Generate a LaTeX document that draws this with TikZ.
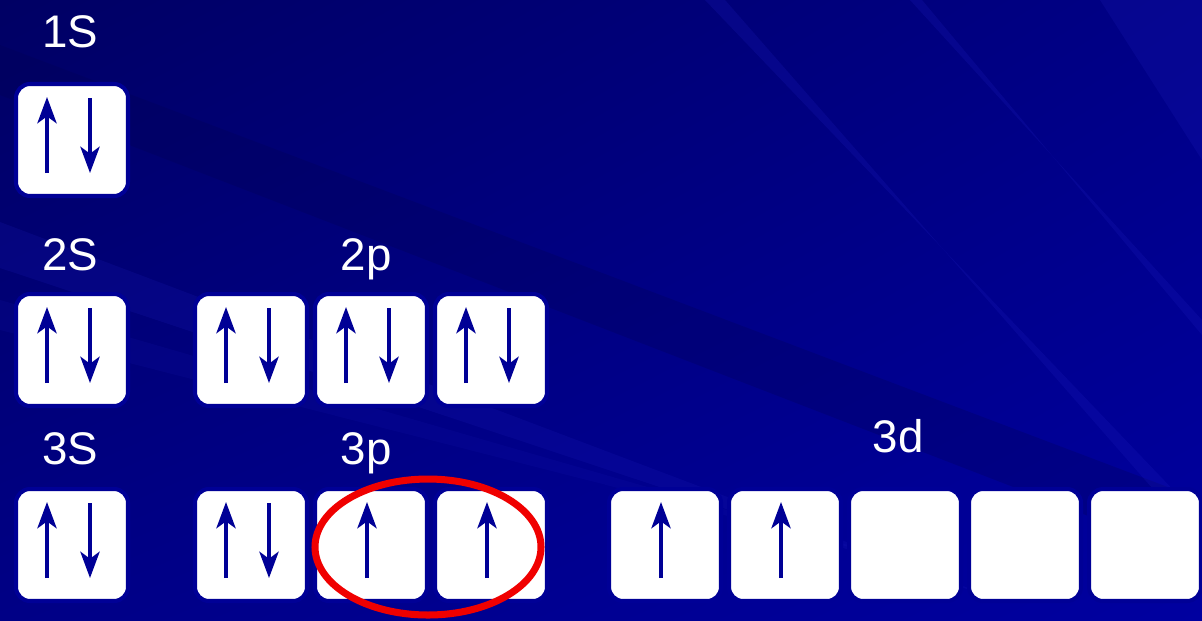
\documentclass[tikz,border=0pt]{standalone}
\usepackage{fontspec}
\setmainfont{Liberation Sans}
\usetikzlibrary{arrows.meta,calc,shadings}
\definecolor{BgDark}{RGB}{0,0,100}
\definecolor{BgMid}{RGB}{0,0,134}
\definecolor{BgLight}{RGB}{0,0,160}
\definecolor{StreakLt}{RGB}{30,30,190}
\definecolor{StreakDk}{RGB}{0,0,80}
\definecolor{RimClr}{RGB}{0,0,150}
\definecolor{SpinClr}{RGB}{0,0,150}
\definecolor{MarkClr}{RGB}{240,0,0}

\begin{document}
\begin{tikzpicture}[x=0.02cm,y=-0.02cm,
  orb/.style={draw=RimClr,line width=2.3pt,fill=white,rounded corners=0.28cm,
    minimum width=2.24cm,minimum height=2.24cm,inner sep=0pt},
  lbl/.style={text=white,font=\fontsize{26}{30}\selectfont,anchor=base,inner sep=0pt},
  spin/.style={draw=SpinClr,line width=2pt,-{Stealth[length=15pt,width=11pt,inset=4pt]}}]
\useasboundingbox (0,0) rectangle (1202,620);

% background
\shade[upper left=BgDark,upper right=BgMid,lower left=BgMid,lower right=BgLight]
  (0,0) rectangle (1202,620);
\fill[StreakDk,opacity=.25] (0,45) -- (0,95) -- (1202,560) -- (1202,500) -- cycle;
\fill[StreakLt,opacity=.18] (0,222) -- (0,268) -- (1000,600) -- cycle;
\fill[StreakLt,opacity=.12] (0,300) -- (0,330) -- (900,560) -- cycle;
\fill[StreakLt,opacity=.22] (705,0) -- (725,0) -- (1202,545) -- (1202,520) -- cycle;
\fill[StreakLt,opacity=.22] (910,0) -- (922,0) -- (1202,335) -- (1202,320) -- cycle;
\fill[StreakLt,opacity=.2] (1100,0) -- (1202,0) -- (1202,160) -- cycle;

% boxes
\node[orb] (s1) at (72,140) {};
\node[orb] (s2) at (72,350) {};
\node[orb] (s3) at (72,545) {};
\foreach \i/\x in {a/251,b/371,c/491}{
  \node[orb] (p2\i) at (\x,350) {};
  \node[orb] (p3\i) at (\x,545) {};
}
\foreach \i/\x in {a/665,b/785,c/905,d/1025,e/1145}
  \node[orb] (d3\i) at (\x,545) {};

% labels
\node[lbl] (l1s) at (70,47) {1S};
\node[lbl] (l2s) at (70,270) {2S};
\node[lbl] (l2p) at (366,270) {2p};
\node[lbl] (l3s) at (70,464) {3S};
\node[lbl] (l3p) at (366,464) {3p};
\node[lbl] (l3d) at (898,452) {3d};

% electrons
\foreach \b in {s1,s2,s3,p2a,p2b,p2c,p3a}{
  \draw[spin] ($(\b)+(-25,33)$) -- ($(\b)+(-25,-43)$);
  \draw[spin] ($(\b)+(18,-42)$) -- ($(\b)+(18,33)$);
}
\foreach \b in {p3b,p3c,d3a,d3b}
  \draw[spin] ($(\b)+(-4,33)$) -- ($(\b)+(-4,-43)$);

\draw[MarkClr,line width=4pt] (428,547) ellipse [x radius=113, y radius=68];
\end{tikzpicture}
\end{document}
